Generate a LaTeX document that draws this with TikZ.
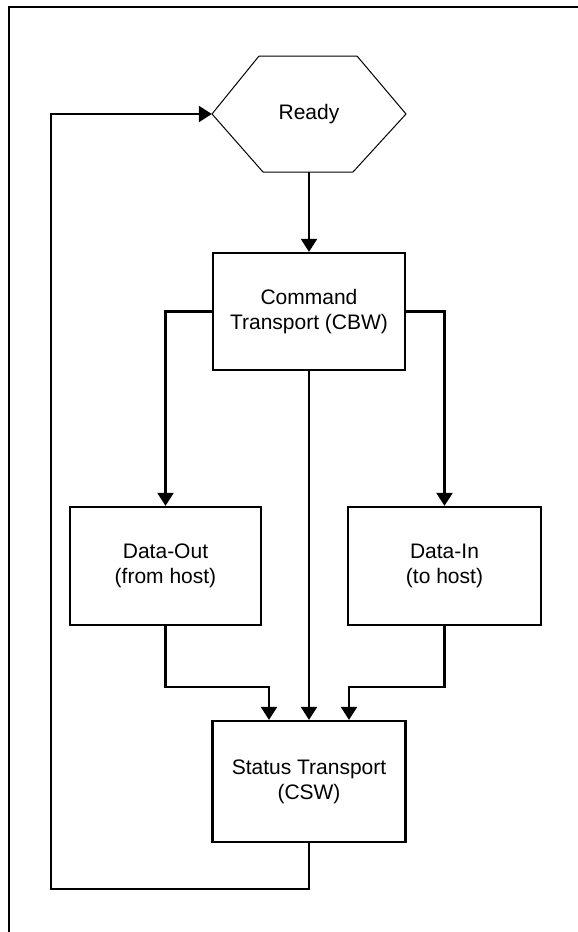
\documentclass[tikz,border=0pt]{standalone}
\usepackage{fontspec}
\setmainfont{Liberation Sans}
\usetikzlibrary{arrows.meta}

\tikzset{
  stepbox/.style={draw, line width=2.3pt, align=center, inner sep=0pt,
    font=\fontsize{21}{25}\selectfont},
  flow/.style={line width=2.3pt, -{Triangle[length=13pt,width=16pt]}},
}

\begin{document}
\begin{tikzpicture}[x=1pt,y=-1pt]
  \useasboundingbox (0,0) rectangle (578,932);

  % page frame (top and left edges)
  \draw[line width=2.4pt] (578,7) -- (9,7) -- (9,932);

  % Ready state (hexagon)
  \node[align=center, inner sep=0pt, minimum width=194pt, minimum height=116pt,
        font=\fontsize{21}{25}\selectfont] (ready) at (309,114) {Ready};
  \draw[line width=1pt, line join=miter]
    (212,114) -- (259,56) -- (357,56) -- (406,114) -- (353,172) -- (263,172) -- cycle;

  % processing stages
  \node[stepbox, minimum width=192pt, minimum height=117pt] (cmd)  at (309,311.5) {Command\\Transport (CBW)};
  \node[stepbox, minimum width=191pt, minimum height=118pt] (dout) at (165.5,566) {Data-Out\\(from host)};
  \node[stepbox, minimum width=193pt, minimum height=118pt] (din)  at (444.5,566) {Data-In\\(to host)};
  \node[stepbox, minimum width=193pt, minimum height=121pt] (stat) at (309,781.5) {Status Transport\\(CSW)};

  % transitions
  \draw[flow] (ready.south) -- (cmd.north);
  \draw[flow] (cmd.west) -| (dout.north);
  \draw[flow] (cmd.east) -| (din.north);
  \draw[flow] (cmd.south) -- (stat.north);

  \coordinate (doutjoin) at (165.5,687);
  \coordinate (dinjoin)  at (444.5,687);
  \draw[flow] (dout.south) -- (doutjoin) -| ([xshift=-40pt]stat.north);
  \draw[flow] (din.south) -- (dinjoin) -| ([xshift=40pt]stat.north);

  % return to Ready
  \coordinate (loopc) at (51,889);
  \draw[flow] (stat.south) |- (loopc) |- (ready.west);
\end{tikzpicture}
\end{document}
